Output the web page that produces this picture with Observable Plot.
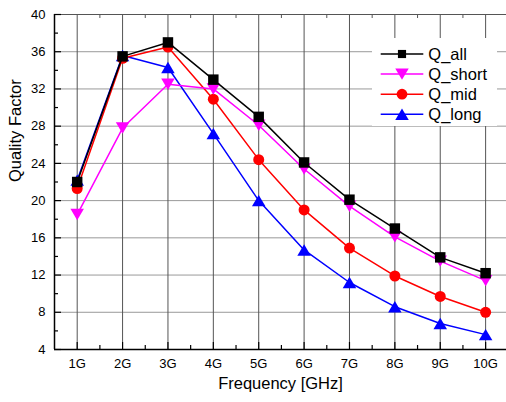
<!DOCTYPE html>
<html><head><meta charset="utf-8">
<script src="https://cdn.jsdelivr.net/npm/d3@7"></script>
<script src="https://cdn.jsdelivr.net/npm/@observablehq/plot@0.6"></script>
<style>
html,body{margin:0;padding:0;background:#fff;}
#chart{position:relative;width:506px;height:402px;font-family:"Liberation Sans",Arial,sans-serif;}
#legend{position:absolute;left:372px;top:38px;}
</style></head><body><div id="chart"></div>
<script>
// ---- data ----
const freqs = [1, 2, 3, 4, 5, 6, 7, 8, 9, 10];
const xTicks = [1, 2, 3, 4, 5, 6, 7, 8, 9, 10];
const xTickLabels = ["1G", "2G", "3G", "4G", "5G", "6G", "7G", "8G", "9G", "10G"];
const yTicks = [4, 8, 12, 16, 20, 24, 28, 32, 36, 40];
const seriesNames = ["Q_all", "Q_short", "Q_mid", "Q_long"];
const qAll   = [22.0, 35.5, 37.0, 33.0, 29.0, 24.1, 20.1, 17.0, 13.9, 12.2];
const qShort = [18.5, 27.8, 32.5, 32.0, 28.1, 23.4, 19.4, 16.1, 13.5, 11.4];
const qMid   = [21.3, 35.3, 36.5, 30.9, 24.4, 19.0, 14.9, 11.9, 9.7, 8.0];
const qLong  = [22.2, 35.6, 34.3, 27.2, 20.0, 14.7, 11.2, 8.6, 6.8, 5.6];
const xTitle = "Frequency [GHz]";
const yTitle = "Quality Factor";

// ---- layout / style ----
const W = 506, H = 402;
const mL = 54, mR = 0, mT = 14, mB = 53;
const plotW = W - mL - mR, plotH = H - mT - mB;
const xDomain = [0.5, 10.46];
const yDomain = [4, 40];
const yMinor = yTicks.slice(0, -1).map(v => v + 2);
const xMinor = xTicks.map(v => v + 0.5);

const triUp = {draw(ctx, size) { const s = Math.sqrt(size / Math.PI); const w = 1.3 * s, h = 1.1 * s;
  ctx.moveTo(0, -h); ctx.lineTo(w, h); ctx.lineTo(-w, h); ctx.closePath(); }};
const triDown = {draw(ctx, size) { const s = Math.sqrt(size / Math.PI); const w = 1.3 * s, h = 1.1 * s;
  ctx.moveTo(0, h); ctx.lineTo(w, -h); ctx.lineTo(-w, -h); ctx.closePath(); }};

const styles = {
  Q_all:   {color: "#000000", symbol: d3.symbolSquare, r: 5.9, legR: 4.6},
  Q_short: {color: "#ff00ff", symbol: triDown, r: 5.2, legR: 5.2},
  Q_mid:   {color: "#ff0000", symbol: d3.symbolCircle, r: 5.5, legR: 5.4},
  Q_long:  {color: "#0000ff", symbol: triUp, r: 5.2, legR: 5.2}
};
const seriesValues = {Q_all: qAll, Q_short: qShort, Q_mid: qMid, Q_long: qLong};
const table = name => freqs.map((f, i) => ({f, q: seriesValues[name][i]}));

const drawOrder = ["Q_long", "Q_mid", "Q_short", "Q_all"];
const seriesMarks = drawOrder.flatMap(name => {
  const st = styles[name];
  return [
    Plot.line(table(name), {x: "f", y: "q", stroke: st.color, strokeWidth: 1.5}),
    Plot.dot(table(name), {x: "f", y: "q", symbol: st.symbol, r: st.r, fill: st.color, stroke: "none"})
  ];
});

const chart = Plot.plot({
  width: W, height: H,
  marginLeft: mL, marginRight: mR, marginTop: mT, marginBottom: mB,
  style: {fontFamily: "'Liberation Sans', Arial, sans-serif", fontSize: "13px", color: "#000", background: "#fff", overflow: "hidden"},
  x: {type: "linear", domain: xDomain},
  y: {type: "linear", domain: yDomain},
  marks: [
    Plot.ruleY(yTicks, {stroke: "#999999", strokeWidth: 1}),
    Plot.ruleX(xTicks, {stroke: "#555555", strokeWidth: 1}),
    ...seriesMarks,
    Plot.ruleY([yDomain[1]], {stroke: "#555555", strokeWidth: 1}),
    Plot.tickY(yTicks, {y: d => d, stroke: "#000", strokeWidth: 1.2, insetRight: plotW - 7}),
    Plot.tickY(yMinor, {y: d => d, stroke: "#000", strokeWidth: 1.2, insetRight: plotW - 4}),
    Plot.tickX(xTicks, {x: d => d, stroke: "#000", strokeWidth: 1.2, insetTop: plotH - 7}),
    Plot.tickX(xMinor, {x: d => d, stroke: "#000", strokeWidth: 1.2, insetTop: plotH - 4}),
    Plot.tickX(xMinor, {x: d => d, stroke: "#555", strokeWidth: 1, insetBottom: plotH - 4}),
    Plot.ruleY([yDomain[0]], {stroke: "#000", strokeWidth: 1.5}),
    Plot.ruleX([xDomain[0]], {stroke: "#000", strokeWidth: 1.5}),
    Plot.axisX({ticks: xTicks, tickFormat: d => xTickLabels[xTicks.indexOf(d)], tickSize: 0, tickPadding: 9, label: null, fontSize: 13}),
    Plot.axisY({ticks: yTicks, tickSize: 0, tickPadding: 9, label: null, fontSize: 13}),
    Plot.text([xTitle], {text: d => d, frameAnchor: "bottom", dy: 39, fontSize: 16.5, fill: "#000"}),
    Plot.text([yTitle], {text: d => d, frameAnchor: "left", rotate: -90, dx: -39, fontSize: 16.5, fill: "#000"})
  ]
});
document.getElementById("chart").appendChild(chart);

// ---- legend (overlay inside plot area) ----
const legW = 125, legH = 88, rowY0 = 16, rowStep = 20.1;
const leg = d3.select("#chart").append("svg").attr("id", "legend")
  .attr("width", legW).attr("height", legH);
leg.append("rect").attr("width", legW).attr("height", legH).attr("fill", "#fff");
seriesNames.forEach((name, i) => {
  const st = styles[name];
  const y = rowY0 + i * rowStep;
  const g = leg.append("g").attr("transform", `translate(0,${y})`);
  g.append("line").attr("x1", 8.7).attr("x2", 51.3).attr("y1", 0).attr("y2", 0)
    .attr("stroke", st.color).attr("stroke-width", 1.5);
  g.append("path").attr("transform", "translate(30,0)")
    .attr("d", d3.symbol().type(st.symbol).size(Math.PI * st.legR * st.legR)())
    .attr("fill", st.color);
  g.append("text").attr("x", 56.3).attr("y", 0).attr("dy", "0.36em")
    .attr("font-size", 16.5).attr("font-family", "'Liberation Sans', Arial, sans-serif")
    .attr("fill", "#000").text(name);
});
</script>
</body></html>
